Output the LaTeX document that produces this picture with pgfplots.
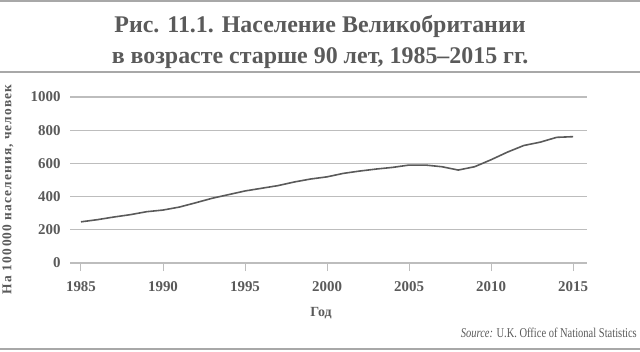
\documentclass[border=0pt]{standalone}
\usepackage{fontspec}
\setmainfont{Liberation Serif}
\newfontfamily\srcfont{Liberation Serif}[FakeStretch=0.78]
\newfontfamily\ylfont{Liberation Serif}[LetterSpace=8]
\usepackage{pgfplots}
\pgfplotsset{compat=1.18}
\definecolor{txt}{HTML}{5A5A5A}
\definecolor{gridc}{HTML}{BDBDBD}
\definecolor{rulec}{HTML}{A8A8A8}
\definecolor{linec}{HTML}{5A5A5A}
\begin{document}
\begin{tikzpicture}[x=1bp,y=1bp]
\path[use as bounding box] (0,0) rectangle (640,351);
\draw[rulec, line width=1.2bp] (0,350) -- (640,350);
\draw[rulec, line width=1.2bp] (0,279) -- (640,279);
\draw[rulec, line width=1.2bp] (0,2) -- (640,2);
\node[anchor=base, text=txt, font=\fontsize{24}{28}\selectfont\bfseries] at (320,319) {Рис. 11.1. Население Великобритании};
\node[anchor=base, text=txt, font=\fontsize{24}{28}\selectfont\bfseries] at (320,288) {в возрасте старше 90 лет, 1985–2015 гг.};
\begin{axis}[
  at={(70bp,88bp)}, anchor=south west,
  scale only axis, width=517bp, height=166bp,
  xmin=1984.33, xmax=2015.85, ymin=0, ymax=1000,
  xtick={1985,1990,...,2015},
  ytick={0,200,...,1000},
  /pgf/number format/1000 sep={},
  axis x line*=bottom, axis y line*=left,
  x axis line style={draw=gridc, line width=1.1bp, -},
  y axis line style={draw=none},
  xtick align=outside,
  major tick length=8bp,
  xtick style={draw=gridc, line width=1bp},
  ytick style={draw=none},
  ymajorgrids, grid style={draw=gridc, line width=1.1bp},
  tick label style={font=\fontsize{15}{18}\selectfont\bfseries, text=txt},
  /pgf/number format/assume math mode=true,
  yticklabel style={anchor=east, xshift=-6bp},
  xticklabel style={yshift=-7bp},
  clip=false,
]
\addplot[linec, line width=1.6bp] coordinates {
(1985,248)(1986,261)(1987,277)(1988,291)(1989,309)(1990,319)(1991,337)(1992,363)(1993,390)(1994,412)(1995,434)(1996,450)(1997,466)(1998,488)(1999,506)(2000,519)(2001,540)(2002,554)(2003,566)(2004,576)(2005,590)(2006,590)(2007,580)(2008,560)(2009,580)(2010,622)(2011,668)(2012,708)(2013,728)(2014,757)(2015,761)};
\end{axis}
\node[rotate=90, text=txt, font=\fontsize{13.5}{15}\ylfont\bfseries] at (8,161.5) {На 100\,000 населения, человек};
\node[anchor=base, text=txt, font=\fontsize{14}{16}\selectfont\bfseries] at (321,35) {Год};
\node[anchor=base east, text=txt, font=\fontsize{13.5}{15}\srcfont, inner sep=0pt] at (637,14) {\textit{Source:} U.K. Office of National Statistics};
\end{tikzpicture}
\end{document}
